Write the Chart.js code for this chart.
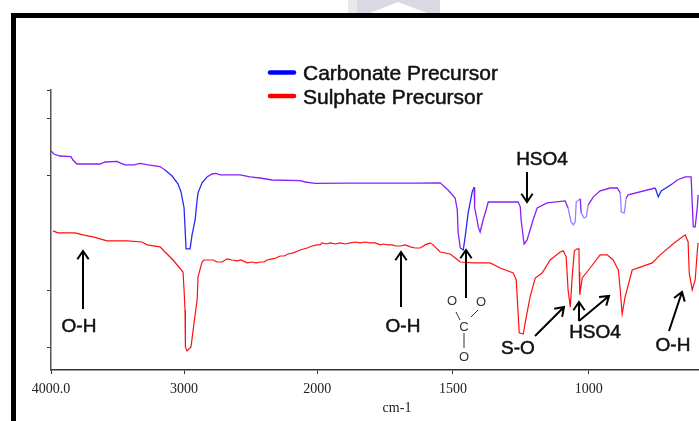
<!DOCTYPE html>
<html>
<head>
<meta charset="utf-8">
<style>
html, body { margin: 0; padding: 0; background: #fff; overflow: hidden; }
canvas { display: block; }
</style>
<script src="https://cdn.jsdelivr.net/npm/chart.js@4/dist/chart.umd.min.js"></script>
</head>
<body>
<canvas id="espectro" width="699" height="421"></canvas>
<script>
var seriesNames = ['Carbonate Precursor', 'Sulphate Precursor'];
var tickWavenumbers = [4000, 3000, 2000, 1500, 1000];
var tickLabels = ['4000.0', '3000', '2000', '1500', '1000'];
var transmittanceTicks = [100, 90, 70, 30, 10];

var carbonateWn = [4000, 3978, 3933, 3850, 3835, 3805, 3632, 3594, 3504, 3481, 3444, 3376, 3331, 3271, 3181, 3143, 3090, 3045, 3023, 3000, 2985, 2955, 2940, 2917, 2902, 2895, 2865, 2827, 2790, 2760, 2729, 2579, 2504, 2429, 2338, 2128, 2090, 2015, 1878, 1864, 1628, 1547, 1518, 1492, 1484, 1481, 1473, 1462, 1455, 1444, 1429, 1422, 1420, 1411, 1407, 1400, 1389, 1378, 1370, 1352, 1260, 1252, 1249, 1238, 1227, 1205, 1190, 1153, 1087, 1076, 1065, 1057, 1050, 1046, 1031, 1028, 1017, 1009, 1002, 983, 958, 921, 895, 884, 880, 869, 862, 855, 755, 744, 733, 693, 674, 645, 623, 619, 615, 608, 600, 597];
var carbonateT = [78.7, 77.6, 76.9, 76.7, 75.5, 74.1, 74.1, 74.8, 75.0, 74.5, 73.8, 73.8, 74.3, 73.8, 73.2, 72.0, 69.9, 67.1, 64.3, 58.7, 44.4, 44.4, 49.3, 54.5, 61.5, 64.0, 67.5, 69.6, 70.6, 70.8, 70.3, 70.3, 69.6, 69.2, 68.5, 68.3, 67.8, 67.3, 67.4, 67.4, 67.4, 67.5, 65.0, 62.2, 58.0, 50.3, 44.7, 44.0, 48.6, 57.0, 64.3, 66.0, 58.7, 54.5, 52.1, 50.3, 54.5, 58.0, 60.8, 60.8, 60.8, 59.1, 54.5, 46.1, 47.5, 54.5, 58.7, 60.5, 61.2, 58.7, 53.8, 52.8, 53.8, 60.8, 61.9, 57.0, 55.2, 55.6, 59.8, 62.6, 64.7, 65.7, 65.7, 64.0, 57.3, 57.0, 62.2, 63.3, 65.7, 62.6, 64.7, 67.1, 68.5, 69.6, 69.6, 60.5, 52.1, 52.1, 59.1, 63.3];

var sulphateWn = [3985, 3948, 3820, 3760, 3684, 3579, 3429, 3316, 3278, 3181, 3143, 3083, 3008, 3000, 2993, 2990, 2978, 2948, 2925, 2902, 2895, 2865, 2850, 2782, 2752, 2714, 2677, 2639, 2602, 2572, 2526, 2489, 2459, 2429, 2399, 2376, 2338, 2308, 2278, 2248, 2218, 2180, 2128, 2075, 2038, 2000, 1989, 1982, 1967, 1952, 1934, 1915, 1897, 1878, 1860, 1842, 1823, 1805, 1786, 1768, 1757, 1738, 1724, 1709, 1694, 1676, 1657, 1639, 1621, 1602, 1584, 1573, 1547, 1510, 1473, 1425, 1363, 1326, 1278, 1267, 1260, 1256, 1241, 1234, 1216, 1197, 1171, 1142, 1105, 1094, 1083, 1076, 1068, 1061, 1053, 1042, 1036, 1035, 1033, 1024, 995, 958, 932, 910, 891, 884, 877, 866, 840, 810, 766, 737, 681, 645, 634, 630, 619, 608, 600, 597];
var sulphateT = [50.7, 50.0, 50.0, 49.3, 48.6, 47.2, 47.2, 46.8, 45.8, 45.1, 43.3, 40.5, 36.3, 30.0, 23.0, 10.1, 8.7, 10.1, 18.5, 26.5, 34.6, 39.8, 40.5, 40.5, 39.8, 39.8, 40.9, 40.5, 40.2, 40.5, 39.5, 39.8, 39.5, 39.8, 39.8, 40.5, 40.9, 41.2, 41.9, 41.9, 42.6, 43.0, 44.0, 44.7, 45.4, 45.8, 45.8, 46.5, 46.1, 46.5, 46.1, 46.5, 46.1, 46.5, 46.8, 46.5, 46.8, 46.5, 46.5, 45.8, 46.1, 45.8, 45.8, 45.4, 45.4, 45.8, 45.1, 44.7, 44.7, 45.8, 46.5, 45.8, 43.3, 42.6, 39.8, 39.5, 39.5, 37.7, 36.0, 33.5, 22.0, 15.0, 14.6, 18.5, 27.6, 34.2, 36.0, 40.5, 43.3, 43.7, 41.6, 30.0, 24.0, 34.6, 43.7, 44.4, 44.4, 36.3, 28.3, 34.2, 37.7, 42.3, 42.3, 40.5, 37.0, 30.0, 21.6, 27.6, 37.0, 38.0, 39.5, 42.3, 46.8, 49.3, 46.8, 36.0, 30.0, 33.5, 43.9, 46.5];

// tramos de la curva de carbonato que se ven azules o mas claros en la imagen
var blueRanges = [[3143, 2850], [1473, 1425], [755, 733]];
var paleRanges = [[1076, 1046], [1028, 1009], [884, 869]];

var purple = '#8a1ff5', blue = '#2a2af5', pale = '#8f86fb';

// el eje del FTIR cambia de escala en 2000 cm-1
function toAxis(wn) {
    return wn > 2000 ? 2000 + (wn - 2000) * 0.49 : wn;
}
function enRango(rangos, u) {
    return rangos.some(function (r) { return u <= toAxis(r[0]) && u >= toAxis(r[1]); });
}
function puntos(xs, ys) {
    return xs.map(function (w, i) { return { x: toAxis(w), y: ys[i] }; });
}

function flecha(ctx, x0, y0, x1, y1) {
    var a = Math.atan2(y1 - y0, x1 - x0), h = 10;
    ctx.beginPath();
    ctx.moveTo(x0, y0);
    ctx.lineTo(x1, y1);
    ctx.moveTo(x1 - h * Math.cos(a - 0.6), y1 - h * Math.sin(a - 0.6));
    ctx.lineTo(x1, y1);
    ctx.lineTo(x1 - h * Math.cos(a + 0.6), y1 - h * Math.sin(a + 0.6));
    ctx.stroke();
}

// texto un poco mas grueso, como en la imagen escaneada
function texto(ctx, s, x, y) {
    ctx.fillText(s, x, y);
    ctx.strokeText(s, x, y);
}

var arrows = [
    [83, 309, 83, 251], [401, 307, 401, 252], [466, 298, 466, 250], [527, 172, 527, 202],
    [535, 336, 564, 307], [579, 321, 579, 302], [579, 321, 609, 296], [669, 331, 682, 292]
];
var labels = [
    ['O-H', 79, 327], ['O-H', 403, 327], ['HSO4', 542, 160], ['S-O', 518, 349],
    ['HSO4', 595, 333], ['O-H', 673, 346]
];

var dibujo = {
    id: 'dibujo',
    beforeDraw: function (chart) {
        var ctx = chart.ctx;
        ctx.save();
        ctx.fillStyle = '#e8e8ea';
        ctx.fillRect(348, 0, 9, 13);
        ctx.fillStyle = '#d9d9e6';
        ctx.fillRect(357, 0, 83, 13);
        ctx.fillStyle = '#fff';
        ctx.beginPath();
        ctx.moveTo(370, 13);
        ctx.lineTo(398, 2);
        ctx.lineTo(427, 13);
        ctx.fill();
        ctx.restore();
    },
    afterDraw: function (chart) {
        var ctx = chart.ctx;
        ctx.save();
        ctx.fillStyle = '#000';
        ctx.fillRect(11, 13, 688, 5);
        ctx.fillRect(11, 13, 5, 408);

        // leyenda
        ctx.lineCap = 'round';
        ctx.lineWidth = 4.5;
        ctx.strokeStyle = '#0000ff';
        ctx.beginPath(); ctx.moveTo(270, 72.5); ctx.lineTo(294, 72.5); ctx.stroke();
        ctx.strokeStyle = '#ff0000';
        ctx.beginPath(); ctx.moveTo(270, 96); ctx.lineTo(294, 96); ctx.stroke();
        ctx.lineCap = 'butt';
        ctx.fillStyle = '#111';
        ctx.strokeStyle = '#111';
        ctx.lineWidth = 0.5;
        ctx.font = '21px "Liberation Sans"';
        ctx.textAlign = 'left';
        ctx.textBaseline = 'alphabetic';
        texto(ctx, seriesNames[0], 303, 80);
        texto(ctx, seriesNames[1], 303, 104);

        // anotaciones
        ctx.font = '19px "Liberation Sans"';
        ctx.textAlign = 'center';
        ctx.textBaseline = 'middle';
        labels.forEach(function (l) { texto(ctx, l[0], l[1], l[2]); });
        ctx.strokeStyle = '#000';
        ctx.lineWidth = 2;
        arrows.forEach(function (a) { flecha(ctx, a[0], a[1], a[2], a[3]); });

        // grupo carbonato
        ctx.font = '13px "Liberation Sans"';
        ctx.fillStyle = '#333';
        ctx.fillText('O', 452, 301);
        ctx.fillText('O', 481, 302);
        ctx.fillText('C', 464, 327);
        ctx.fillText('O', 464, 357);
        ctx.strokeStyle = '#333';
        ctx.lineWidth = 1;
        ctx.beginPath();
        ctx.moveTo(456, 312); ctx.lineTo(460, 320);
        ctx.moveTo(478, 310); ctx.lineTo(471, 317);
        ctx.moveTo(464, 333); ctx.lineTo(464, 348);
        ctx.stroke();

        ctx.font = '14px "Liberation Serif"';
        ctx.fillStyle = '#222';
        ctx.fillText('cm-1', 397, 408);
        ctx.restore();
    }
};

var ctx = document.getElementById('espectro').getContext('2d');
var myChart = new Chart(ctx, {
    type: 'line',
    data: {
        datasets: [{
                label: seriesNames[1],
                data: puntos(sulphateWn, sulphateT),
                borderColor: '#ff1010',
                borderWidth: 1.2,
                pointRadius: 0,
                tension: 0
            }, {
                label: seriesNames[0],
                data: puntos(carbonateWn, carbonateT),
                borderColor: purple,
                borderWidth: 1.3,
                pointRadius: 0,
                tension: 0,
                segment: {
                    borderColor: function (c) {
                        var u = c.p0.parsed.x;
                        if (enRango(blueRanges, u)) return blue;
                        if (enRango(paleRanges, u)) return pale;
                        return purple;
                    }
                }
            }]
    },
    options: {
        responsive: false,
        animation: false,
        parsing: { xAxisKey: 'x', yAxisKey: 'y' },
        layout: { padding: { top: 90, right: 0, left: 0, bottom: 0 } },
        plugins: { legend: { display: false }, tooltip: { enabled: false } },
        scales: {
            x: {
                type: 'linear',
                reverse: true,
                min: 594,
                max: 2980,
                afterBuildTicks: function (scale) {
                    scale.ticks = tickWavenumbers.map(function (w) { return { value: toAxis(w) }; });
                },
                afterFit: function (scale) { scale.height = 51; },
                grid: { drawOnChartArea: false, drawTicks: true, tickLength: 4, color: '#333' },
                border: { color: '#333', width: 1.5 },
                ticks: {
                    autoSkip: false,
                    maxRotation: 0,
                    padding: 7,
                    color: '#222',
                    font: { family: 'Liberation Serif', size: 14 },
                    callback: function (v) {
                        var i = tickWavenumbers.findIndex(function (w) { return toAxis(w) === v; });
                        return i >= 0 ? tickLabels[i] : '';
                    }
                }
            },
            y: {
                min: 2,
                max: 100,
                afterBuildTicks: function (scale) {
                    scale.ticks = transmittanceTicks.map(function (v) { return { value: v }; });
                },
                afterFit: function (scale) { scale.width = 51; },
                grid: { drawOnChartArea: false, drawTicks: true, tickLength: 4, color: '#333' },
                border: { color: '#555', width: 1.5 },
                ticks: { display: false }
            }
        }
    },
    plugins: [dibujo]
});
</script>
</body>
</html>
